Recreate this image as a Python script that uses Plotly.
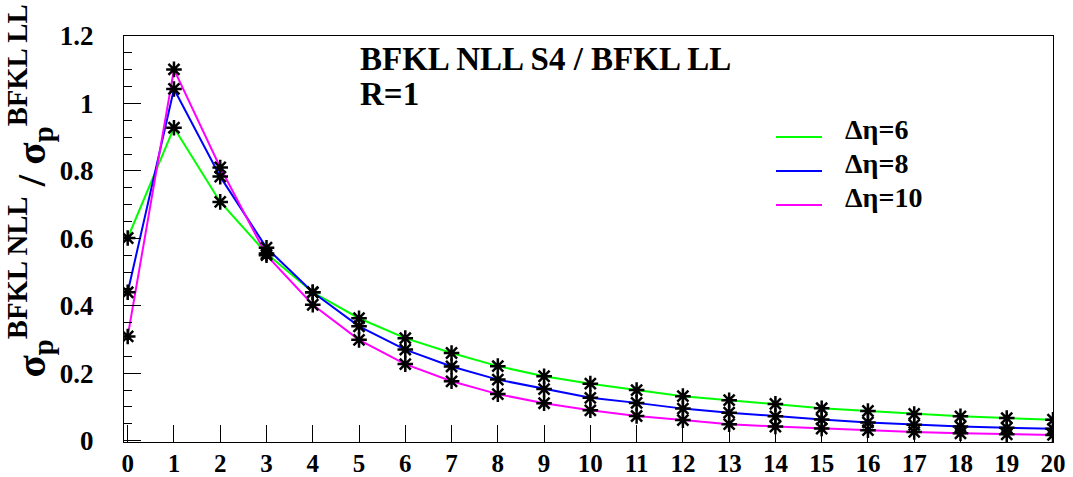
import plotly.graph_objects as go

x_vals = list(range(0, 21))
deta6 = [0.601, 0.928, 0.708, 0.555, 0.440, 0.363, 0.304, 0.260, 0.221, 0.191, 0.169,
         0.150, 0.132, 0.120, 0.109, 0.096, 0.088, 0.079, 0.072, 0.067, 0.062]
deta8 = [0.440, 1.043, 0.783, 0.572, 0.440, 0.339, 0.270, 0.220, 0.181, 0.153, 0.127,
         0.112, 0.095, 0.083, 0.072, 0.063, 0.054, 0.047, 0.042, 0.038, 0.035]
deta10 = [0.309, 1.101, 0.810, 0.550, 0.403, 0.299, 0.227, 0.176, 0.138, 0.111, 0.090,
          0.073, 0.061, 0.049, 0.042, 0.036, 0.031, 0.026, 0.022, 0.019, 0.017]
series_names = ["Δη=6", "Δη=8", "Δη=10"]
series_colors = ["#00ff00", "#0000ff", "#ff00ff"]
title_lines = ["BFKL NLL S4 / BFKL LL", "R=1"]

FONT = "'Liberation Serif', 'Times New Roman', serif"

fig = go.Figure()
for name, ys, col in zip(series_names, [deta6, deta8, deta10], series_colors):
    fig.add_trace(go.Scatter(x=x_vals, y=ys, mode="lines", name=name, showlegend=False,
                             line=dict(color=col, width=2)))
for ys in [deta6, deta8, deta10]:
    fig.add_trace(go.Scatter(x=x_vals, y=ys, mode="markers", showlegend=False,
                             marker=dict(symbol="asterisk-open", size=13,
                                         color="black",
                                         line=dict(color="black", width=2.5))))

W, H = 1073, 477
ml, mr, mt, mb = 124, 20, 36, 35
pw, ph = W - ml - mr, H - mt - mb

def px(xp):
    return (xp - ml) / pw

def py(yp):
    return (H - mb - yp) / ph

fig.update_layout(
    width=W, height=H,
    margin=dict(l=ml, r=mr, t=mt, b=mb, autoexpand=False),
    paper_bgcolor="white", plot_bgcolor="white",
    font=dict(family=FONT, color="black", weight="bold"),
    showlegend=False,
    xaxis=dict(range=[-0.08, 20], tickmode="linear", tick0=0, dtick=1,
               ticks="inside", ticklen=17, tickwidth=1, tickcolor="black",
               showline=True, linecolor="black", linewidth=1, mirror=True,
               showgrid=False, zeroline=False, automargin=False,
               tickfont=dict(family=FONT, size=25, weight="bold"),
               ticklabelstandoff=-1),
    yaxis=dict(range=[-0.004, 1.2], tickmode="linear", tick0=0, dtick=0.2,
               ticks="inside", ticklen=17, tickwidth=1, tickcolor="black",
               showline=True, linecolor="black", linewidth=1, mirror=True,
               showgrid=False, zeroline=False, automargin=False,
               minor=dict(dtick=0.05, ticks="inside", ticklen=8, tickcolor="black", tickwidth=1),
               tickfont=dict(family=FONT, size=27, weight="bold"),
               ticklabelstandoff=24),
)

# legend (lines + labels)
leg_y = [137, 171, 205]
for name, col, ly in zip(series_names, series_colors, leg_y):
    fig.add_shape(type="line", xref="paper", yref="paper",
                  x0=px(776), x1=px(822), y0=py(ly), y1=py(ly),
                  line=dict(color=col, width=2))
    fig.add_annotation(text=name, xref="paper", yref="paper",
                       x=px(843), y=py(ly - 8), xanchor="left", yanchor="middle",
                       showarrow=False, font=dict(family=FONT, size=28, weight="bold"))

for txt, cy in zip(title_lines, [59, 94]):
    fig.add_annotation(
        text=txt, xref="paper", yref="paper",
        x=px(358), y=py(cy), xanchor="left", yanchor="middle", align="left",
        showarrow=False, font=dict(family=FONT, size=33, weight="bold"))

fig.add_annotation(
    text="σ<sub>p</sub><sup>BFKL NLL</sup> / σ<sub>p</sub><sup>BFKL LL</sup>",
    xref="paper", yref="paper", x=px(30), y=py(3), xanchor="center", yanchor="top",
    textangle=-90, showarrow=False, font=dict(family=FONT, size=41, weight="bold"))

fig.write_html("out.html")
